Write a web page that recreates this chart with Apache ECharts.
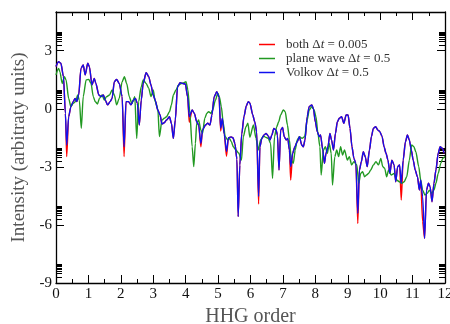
<!DOCTYPE html>
<html>
<head>
<meta charset="utf-8">
<script src="https://cdn.jsdelivr.net/npm/echarts@6/dist/echarts.min.js"></script>
<style>
  html, body { margin: 0; padding: 0; background: #fff; }
  #chart { width: 450px; height: 324px; }
</style>
</head>
<body>
<div id="chart"></div>
<script>
// HHG spectra, log10 intensity vs harmonic order
const yMajor = [-9, -6, -3, 0, 3]
const xTicks = [0, 1, 2, 3, 4, 5, 6, 7, 8, 9, 10, 11, 12]
// minor (log) ticks sitting in the decade above each major tick
const yMinor = [-8.7, -8.52, -8.4, -8.3, -8.22, -8.15, -8.1, -8.05,
  -5.7, -5.52, -5.4, -5.3, -5.22, -5.15, -5.1, -5.05,
  -2.7, -2.52, -2.4, -2.3, -2.22, -2.15, -2.1, -2.05,
  0.3, 0.48, 0.6, 0.7, 0.78, 0.85, 0.9, 0.95,
  3.3, 3.48, 3.6, 3.7, 3.78, 3.85, 3.9, 3.95]

const bothData = [
  [0, 2.18], [0.08, 2.43], [0.15, 2.35], [0.23, 1.66], [0.29, -0.24], [0.33, -2.47], [0.39, -0.41],
  [0.46, 0.11], [0.53, 0.37], [0.59, 0.54], [0.64, 0.37], [0.70, 0.71], [0.77, 2.09], [0.84, 2.26],
  [0.90, 1.75], [0.98, 2.35], [1.03, 2.18], [1.11, 1.23], [1.18, 1.57], [1.23, 1.31], [1.32, 0.71],
  [1.39, 0.63], [1.46, 0.71], [1.52, 0.45], [1.59, 0.20], [1.67, 0.37], [1.73, 0.54], [1.80, 1.40],
  [1.87, 1.52], [1.95, 1.31], [2.04, 0.63], [2.10, -2.47], [2.16, 0.37], [2.24, 0.37], [2.31, 0.20],
  [2.39, 0.45], [2.45, 0.54], [2.51, 0.28], [2.57, -0.84], [2.63, 0.45], [2.69, 1.31], [2.78, 1.87],
  [2.86, 1.66], [2.93, 1.23], [3.00, 0.71], [3.06, 0.45], [3.14, -0.06], [3.21, -0.32], [3.27, -0.79],
  [3.34, -0.72], [3.41, -0.58], [3.50, -0.41], [3.56, -0.75], [3.62, -1.53], [3.68, -0.58], [3.75, 1.14],
  [3.83, 1.35], [3.91, 1.31], [3.99, 1.28], [4.06, 0.63], [4.11, -0.70], [4.20, -0.06], [4.27, -0.24],
  [4.34, -0.67], [4.40, -0.84], [4.47, -1.96], [4.52, -1.10], [4.61, -0.84], [4.68, -0.75], [4.75, -0.84],
  [4.81, -0.32], [4.88, 0.63], [4.96, 0.88], [5.03, 0.60], [5.08, -1.15], [5.13, -0.50], [5.19, -1.30],
  [5.26, -2.45], [5.32, -1.50], [5.40, -1.45], [5.46, -1.50], [5.52, -1.80], [5.58, -2.60], [5.62, -5.57],
  [5.67, -2.90], [5.73, -1.30], [5.80, -0.40], [5.87, 0.15], [5.93, 0.37], [5.98, 0.30], [6.07, -0.32],
  [6.13, -0.67], [6.19, -1.18], [6.25, -4.92], [6.29, -1.96], [6.35, -1.53], [6.42, -1.35], [6.48, -1.27],
  [6.55, -1.41], [6.60, -1.61], [6.66, -1.35], [6.72, -1.01], [6.79, -1.10], [6.83, -1.35], [6.88, -3.16],
  [6.93, -1.10], [6.99, -0.96], [7.04, -1.44], [7.10, -1.61], [7.15, -1.53], [7.20, -2.13], [7.24, -3.68],
  [7.30, -2.30], [7.37, -1.96], [7.44, -1.70], [7.51, -1.44], [7.58, -1.87], [7.63, -1.96], [7.68, -1.61],
  [7.75, -0.41], [7.81, 0.11], [7.89, 0.20], [7.94, 0.02], [8.00, -0.67], [8.06, -1.18], [8.12, -1.44],
  [8.16, -1.35], [8.23, -2.13], [8.28, -2.82], [8.33, -2.30], [8.39, -1.96], [8.45, -1.27], [8.50, -1.61],
  [8.56, -2.13], [8.62, -1.27], [8.68, -0.67], [8.74, -0.49], [8.81, -0.41], [8.88, -0.75], [8.95, -0.32],
  [9.01, -0.32], [9.07, -1.01], [9.13, -1.96], [9.19, -2.56], [9.25, -2.82], [9.31, -5.92], [9.36, -3.16],
  [9.42, -2.73], [9.48, -2.22], [9.54, -2.47], [9.60, -2.99], [9.67, -2.13], [9.73, -1.44], [9.79, -1.01],
  [9.86, -0.92], [9.93, -1.10], [9.99, -1.18], [10.06, -1.44], [10.12, -1.96], [10.18, -2.30], [10.24, -2.65],
  [10.30, -3.33], [10.36, -2.65], [10.43, -2.90], [10.48, -3.77], [10.54, -2.99], [10.60, -2.90], [10.65, -4.71],
  [10.71, -2.65], [10.78, -1.70], [10.84, -1.35], [10.90, -1.61], [10.96, -2.13], [11.02, -2.65], [11.08, -3.16],
  [11.15, -3.51], [11.21, -4.20], [11.25, -3.68], [11.31, -5.83], [11.37, -6.69], [11.43, -4.20], [11.49, -3.85],
  [11.54, -4.02], [11.60, -4.80], [11.66, -3.85], [11.72, -3.16], [11.79, -2.30], [11.85, -1.96], [11.92, -2.04],
  [11.98, -2.30], [12, -2.30]
]

const planeData = [
  [0, 1.75], [0.08, 2.09], [0.12, 1.92], [0.19, 1.31], [0.26, 1.66], [0.31, 1.49], [0.39, 0.54],
  [0.46, 0.11], [0.53, 0.28], [0.60, 0.37], [0.67, 0.71], [0.72, 0.45], [0.78, -1.01], [0.84, 0.63],
  [0.93, 1.49], [1.01, 1.52], [1.08, 1.31], [1.15, 0.63], [1.21, 0.37], [1.28, 0.25], [1.34, 0.54],
  [1.42, 0.71], [1.49, 0.45], [1.56, 0.63], [1.65, 0.71], [1.73, 0.97], [1.80, 0.71], [1.87, 0.20],
  [1.95, 0.54], [2.04, 1.40], [2.11, 1.66], [2.18, 1.31], [2.26, 0.63], [2.34, 0.28], [2.43, 0.63],
  [2.49, -1.53], [2.55, 0.37], [2.63, 1.14], [2.69, 1.49], [2.78, 1.31], [2.86, 1.06], [2.93, 0.63],
  [3.00, 0.97], [3.06, 0.37], [3.14, 0.02], [3.19, -1.44], [3.27, -0.58], [3.34, -0.49], [3.41, -0.41],
  [3.50, -0.15], [3.56, 0.20], [3.62, 0.71], [3.70, 0.97], [3.78, 1.23], [3.87, 1.31], [3.95, 1.35],
  [4.01, 1.40], [4.07, 0.97], [4.13, -0.24], [4.20, -1.96], [4.25, -2.99], [4.30, -1.79], [4.34, -0.75],
  [4.40, -0.58], [4.47, -1.10], [4.52, -1.27], [4.59, -0.49], [4.65, -0.24], [4.71, -0.15], [4.78, -0.24],
  [4.83, -0.06], [4.92, 0.45], [4.99, 0.80], [5.04, 0.63], [5.10, 0.11], [5.16, -0.75], [5.22, -1.44],
  [5.30, -1.61], [5.35, -1.53], [5.41, -1.70], [5.47, -1.96], [5.55, -2.13], [5.64, -2.30], [5.72, -2.65],
  [5.78, -1.44], [5.86, -0.93], [5.92, -0.75], [5.98, -1.47], [6.09, -0.84], [6.17, -1.53], [6.24, -2.13],
  [6.31, -1.61], [6.40, -1.41], [6.48, -1.48], [6.55, -1.53], [6.62, -1.79], [6.68, -3.59], [6.74, -1.44],
  [6.81, -0.92], [6.87, -0.67], [6.93, -0.32], [7.01, -0.06], [7.07, -0.15], [7.14, -0.84], [7.20, -1.61],
  [7.26, -2.65], [7.32, -2.82], [7.38, -2.13], [7.44, -1.61], [7.51, -1.44], [7.59, -1.53], [7.67, -1.44],
  [7.75, -0.58], [7.81, -0.06], [7.89, 0.11], [7.96, -0.06], [8.02, -0.41], [8.08, -1.27], [8.14, -1.96],
  [8.18, -3.42], [8.25, -2.13], [8.31, -1.96], [8.37, -2.30], [8.43, -1.79], [8.49, -2.30], [8.53, -3.94],
  [8.60, -2.47], [8.66, -2.13], [8.72, -2.47], [8.78, -1.96], [8.84, -2.39], [8.90, -2.13], [8.99, -2.65],
  [9.05, -2.47], [9.12, -2.90], [9.19, -2.73], [9.28, -2.90], [9.34, -3.85], [9.40, -3.34], [9.46, -3.25],
  [9.52, -3.51], [9.58, -3.42], [9.64, -3.34], [9.71, -3.16], [9.79, -2.90], [9.87, -2.73], [9.95, -2.90],
  [10.02, -2.56], [10.08, -2.99], [10.14, -3.08], [10.20, -3.51], [10.26, -3.16], [10.34, -3.42], [10.43, -3.34],
  [10.51, -3.68], [10.59, -3.77], [10.67, -3.85], [10.74, -3.77], [10.82, -3.51], [10.90, -2.65], [10.97, -1.87],
  [11.04, -1.96], [11.10, -2.22], [11.19, -2.99], [11.25, -3.68], [11.31, -4.20], [11.38, -4.45], [11.45, -4.37],
  [11.52, -4.20], [11.59, -4.37], [11.66, -4.20], [11.72, -3.85], [11.79, -3.34], [11.87, -2.82], [11.93, -2.56],
  [12, -2.47]
]

const volkovData = [
  [0, 2.18], [0.08, 2.43], [0.15, 2.35], [0.23, 1.66], [0.29, -0.24], [0.33, -1.87], [0.39, -0.41],
  [0.46, 0.11], [0.53, 0.37], [0.59, 0.54], [0.64, 0.37], [0.70, 0.71], [0.77, 2.09], [0.84, 2.26],
  [0.90, 1.75], [0.98, 2.35], [1.03, 2.18], [1.11, 1.23], [1.18, 1.57], [1.23, 1.31], [1.32, 0.71],
  [1.39, 0.63], [1.46, 0.71], [1.52, 0.45], [1.59, 0.20], [1.67, 0.37], [1.73, 0.54], [1.80, 1.40],
  [1.87, 1.52], [1.95, 1.31], [2.04, 0.63], [2.10, -1.96], [2.16, 0.37], [2.24, 0.37], [2.31, 0.20],
  [2.39, 0.45], [2.45, 0.54], [2.51, 0.28], [2.57, -0.84], [2.63, 0.45], [2.69, 1.31], [2.78, 1.87],
  [2.86, 1.66], [2.93, 1.23], [3.00, 0.71], [3.06, 0.45], [3.14, -0.06], [3.21, -0.32], [3.27, -0.79],
  [3.34, -0.72], [3.41, -0.58], [3.50, -0.41], [3.56, -0.75], [3.62, -1.53], [3.68, -0.58], [3.75, 1.14],
  [3.83, 1.35], [3.91, 1.31], [3.99, 1.28], [4.06, 0.63], [4.11, -0.41], [4.20, -0.06], [4.27, -0.24],
  [4.34, -0.67], [4.40, -0.84], [4.47, -1.79], [4.52, -1.10], [4.61, -0.84], [4.68, -0.75], [4.75, -0.84],
  [4.81, -0.32], [4.88, 0.63], [4.96, 0.88], [5.03, 0.60], [5.08, -1.00], [5.13, -0.50], [5.19, -1.30],
  [5.26, -2.20], [5.32, -1.50], [5.40, -1.45], [5.46, -1.50], [5.52, -1.80], [5.58, -2.60], [5.62, -5.57],
  [5.67, -2.90], [5.73, -1.30], [5.80, -0.40], [5.87, 0.15], [5.93, 0.37], [5.98, 0.30], [6.07, -0.32],
  [6.13, -0.67], [6.19, -1.18], [6.25, -4.53], [6.29, -1.96], [6.35, -1.53], [6.42, -1.35], [6.48, -1.27],
  [6.55, -1.41], [6.60, -1.61], [6.66, -1.35], [6.72, -1.01], [6.79, -1.10], [6.83, -1.35], [6.88, -3.16],
  [6.93, -1.10], [6.99, -0.96], [7.04, -1.44], [7.10, -1.61], [7.15, -1.53], [7.20, -2.13], [7.24, -2.99],
  [7.30, -2.30], [7.37, -1.96], [7.44, -1.70], [7.51, -1.44], [7.58, -1.87], [7.63, -1.96], [7.68, -1.61],
  [7.75, -0.41], [7.81, 0.11], [7.89, 0.20], [7.94, 0.02], [8.00, -0.67], [8.06, -1.18], [8.12, -1.44],
  [8.16, -1.35], [8.23, -2.13], [8.28, -2.82], [8.33, -2.30], [8.39, -1.96], [8.45, -1.27], [8.50, -1.61],
  [8.56, -2.13], [8.62, -1.27], [8.68, -0.67], [8.74, -0.49], [8.81, -0.41], [8.88, -0.75], [8.95, -0.32],
  [9.01, -0.32], [9.07, -1.01], [9.13, -1.96], [9.19, -2.56], [9.25, -2.82], [9.31, -5.40], [9.36, -3.16],
  [9.42, -2.73], [9.48, -2.22], [9.54, -2.47], [9.60, -2.99], [9.67, -2.13], [9.73, -1.44], [9.79, -1.01],
  [9.86, -0.92], [9.93, -1.10], [9.99, -1.18], [10.06, -1.44], [10.12, -1.96], [10.18, -2.30], [10.24, -2.65],
  [10.30, -3.33], [10.36, -2.65], [10.43, -2.90], [10.48, -3.77], [10.54, -2.99], [10.60, -2.90], [10.65, -3.85],
  [10.71, -2.65], [10.78, -1.70], [10.84, -1.35], [10.90, -1.61], [10.96, -2.13], [11.02, -2.65], [11.08, -3.16],
  [11.15, -3.51], [11.21, -4.20], [11.25, -3.68], [11.31, -4.54], [11.37, -6.69], [11.43, -4.20], [11.49, -3.85],
  [11.54, -4.02], [11.60, -4.80], [11.66, -3.85], [11.72, -3.16], [11.79, -2.30], [11.85, -1.96], [11.92, -2.04],
  [11.98, -2.30], [12, -2.30]
]

const seriesNames = ['both', 'plane wave', 'Volkov']
const seriesDt = ['0.005', '0.5', '0.5']
const seriesColors = ['#ff0000', '#229922', '#1010ee']

const font = 'Liberation Serif, Times New Roman, serif'

// one axis config builder for the framed look (ticks inside on all sides)
function xAx (pos, showLabel) {
  return {
    type: 'value', position: pos, min: 0, max: 12, interval: 1,
    axisLine: { show: true, onZero: false, lineStyle: { color: '#000', width: 1.3 } },
    axisTick: { show: true, inside: true, length: 8, lineStyle: { color: '#000' } },
    minorTick: { show: true, splitNumber: 2, length: 4, lineStyle: { color: '#000' } },
    axisLabel: { show: showLabel, color: '#111', fontFamily: font, fontSize: 15, margin: 4 },
    splitLine: { show: false },
    name: showLabel ? 'HHG order' : '',
    nameLocation: 'middle', nameGap: 21,
    nameTextStyle: { color: '#555', fontFamily: font, fontSize: 20 }
  }
}
function yAx (pos, ticks, len, showLabel, showLine) {
  return {
    type: 'value', position: pos, min: -9, max: 5, interval: 3,
    axisLine: { show: showLine, onZero: false, lineStyle: { color: '#000', width: 1.3 } },
    axisTick: { show: true, inside: true, length: len, customValues: ticks, lineStyle: { color: '#000' } },
    axisLabel: { show: showLabel, customValues: yMajor, color: '#111', fontFamily: font, fontSize: 15, margin: 4,
      formatter: v => (yMajor.indexOf(v) >= 0 ? String(v) : '') },
    splitLine: { show: false },
    name: showLabel ? 'Intensity (arbitraty units)' : '',
    nameLocation: 'middle', nameGap: 24,
    nameTextStyle: { color: '#555', fontFamily: font, fontSize: 19 }
  }
}

const chart = echarts.init(document.getElementById('chart'), null, { renderer: 'canvas' })
chart.setOption({
  animation: false,
  backgroundColor: '#fff',
  grid: { left: 56, right: 5, top: 12, bottom: 41, outerBoundsMode: 'none', containLabel: false },
  legend: {
    left: 254, top: 33, orient: 'vertical',
    icon: 'rect', itemWidth: 16, itemHeight: 1.5, itemGap: 1,
    data: seriesNames,
    formatter: name => {
      const i = seriesNames.indexOf(name)
      return '{a|' + name + ' \u0394}{i|t}{a| = ' + seriesDt[i] + '}'
    },
    textStyle: {
      color: '#333', fontFamily: font, fontSize: 13, padding: [0, 0, 0, 6],
      rich: {
        a: { color: '#333', fontFamily: font, fontSize: 13, lineHeight: 14 },
        i: { color: '#333', fontFamily: font, fontSize: 13, fontStyle: 'italic', lineHeight: 14 }
      }
    }
  },
  xAxis: [xAx('bottom', true), xAx('top', false)],
  yAxis: [
    yAx('left', yMajor, 8, true, true),
    yAx('left', yMinor, 6, false, false),
    yAx('right', yMajor, 8, false, true),
    yAx('right', yMinor, 6, false, false)
  ],
  series: [bothData, planeData, volkovData].map((d, i) => ({
    name: seriesNames[i],
    type: 'line',
    data: d,
    showSymbol: false,
    symbol: 'none',
    smooth: 0.25,
    smoothMonotone: 'x',
    color: seriesColors[i],
    lineStyle: { width: 1.4, color: seriesColors[i] },
    xAxisIndex: 0,
    yAxisIndex: 0
  }))
})
</script>
</body>
</html>
